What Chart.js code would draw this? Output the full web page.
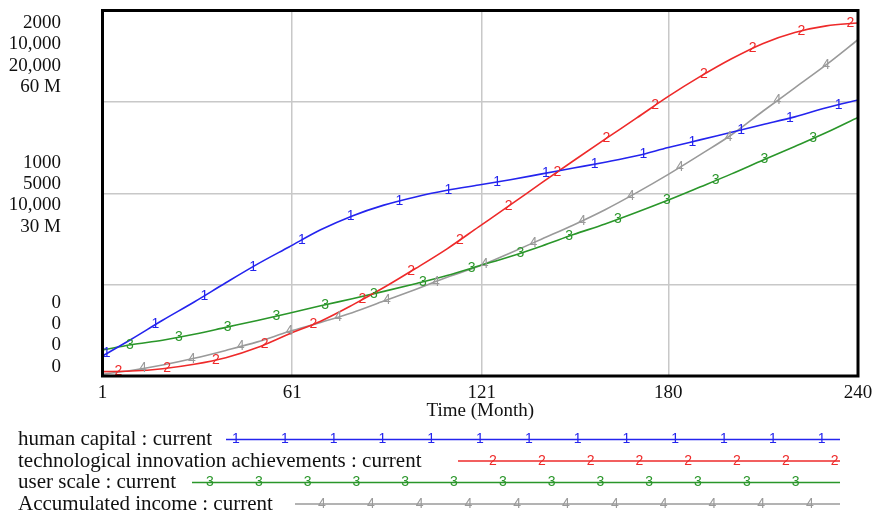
<!DOCTYPE html>
<html>
<head>
<meta charset="utf-8">
<title>Vensim style run chart</title>
<script src="https://cdn.jsdelivr.net/npm/chart.js@4.4.1/dist/chart.umd.min.js"></script>
<style>
  html, body { margin: 0; padding: 0; background: #fff; }
  canvas { display: block; }
</style>
</head>
<body>
<canvas id="runChart" width="872" height="516"></canvas>
<script>
// values, one point every ~10 months
const months = [1, 10, 20, 30, 40, 50, 60, 70, 80, 90, 100, 110, 120, 130, 140, 150, 160, 170, 180, 190, 200, 210, 220, 230, 240];
const humanCapital = [110, 200, 305, 405, 510, 612, 706, 800, 876, 935, 980, 1016, 1045, 1074, 1106, 1138, 1170, 1205, 1250, 1292, 1334, 1376, 1418, 1468, 1510];
const techInnovation = [120, 135, 200, 320, 500, 780, 1150, 1500, 1940, 2420, 2940, 3480, 4080, 4680, 5290, 5890, 6480, 7060, 7650, 8190, 8680, 9100, 9400, 9580, 9660];
const userScale = [1420, 1710, 1960, 2280, 2660, 3040, 3430, 3840, 4230, 4630, 5050, 5500, 6020, 6540, 7120, 7740, 8320, 8960, 9630, 10340, 11060, 11820, 12560, 13320, 14150];
const accumulatedIncome = [300000, 900000, 1800000, 2900000, 4200000, 5600000, 7300000, 8800000, 10400000, 12300000, 14200000, 16200000, 18000000, 20200000, 22500000, 24800000, 27300000, 30100000, 33100000, 36300000, 39600000, 43500000, 47300000, 51100000, 55200000];

const seriesNames = ['human capital : current', 'technological innovation achievements : current', 'user scale : current', 'Accumulated income : current'];
const seriesMarks = ['1', '2', '3', '4'];
const seriesMax = [2000, 10000, 20000, 60000000];
const xTicks = [1, 61, 121, 180, 240];
const yTopLabels = ['2000', '10,000', '20,000', '60 M'];
const yMidLabels = ['1000', '5000', '10,000', '30 M'];
const yBotLabels = ['0', '0', '0', '0'];

const colors = ['#2424ee', '#ee2a2a', '#2a962a', '#9a9a9a'];
const serif = '"Liberation Serif", "Times New Roman", serif';

// where the little number marks start (px) on the plot and in the legend
const markStart = [106.7, 118.3, 130, 143];
const markStep = 48.8;
const legendRows = [
  { y: 439.5, base: 445, from: 226, to: 840, first: 236 },
  { y: 461, base: 466.5, from: 458, to: 840, first: 493 },
  { y: 482.5, base: 488, from: 192, to: 840, first: 210 },
  { y: 504, base: 509.5, from: 295, to: 840, first: 322 }
];

function toPoints(vals) {
  return months.map((m, i) => ({ x: m, y: vals[i] }));
}

function lineYAt(pts, x) {
  for (let k = 1; k < pts.length; k++) {
    if (pts[k].x >= x) {
      const p0 = pts[k - 1], p1 = pts[k];
      return p0.y + (p1.y - p0.y) * (x - p0.x) / (p1.x - p0.x);
    }
  }
  return pts[pts.length - 1].y;
}

const vensimDecor = {
  id: 'vensimDecor',
  afterDatasetsDraw(chart) {
    const { ctx, chartArea: a } = chart;
    ctx.save();
    ctx.font = '14px "Liberation Sans", Arial, sans-serif';
    ctx.textAlign = 'center';
    ctx.textBaseline = 'middle';
    chart.data.datasets.forEach((ds, i) => {
      const pts = chart.getDatasetMeta(i).data;
      ctx.fillStyle = ds.borderColor;
      for (let x = markStart[i]; x <= a.right; x += markStep) {
        ctx.fillText(seriesMarks[i], x, lineYAt(pts, x));
      }
    });
    ctx.strokeStyle = '#000';
    ctx.lineWidth = 3;
    ctx.strokeRect(a.left, a.top, a.right - a.left, a.bottom - a.top);
    ctx.restore();
  },
  afterDraw(chart) {
    const { ctx } = chart;
    const y = chart.scales.y;
    const step = 21.3;
    ctx.save();
    ctx.fillStyle = '#111';
    ctx.font = '19px ' + serif;
    ctx.textAlign = 'right';
    ctx.textBaseline = 'alphabetic';
    const top = y.getPixelForValue(2000), mid = y.getPixelForValue(1000), bot = y.getPixelForValue(0);
    yTopLabels.forEach((t, i) => ctx.fillText(t, 61, top + 17.5 + i * step));
    yMidLabels.forEach((t, i) => ctx.fillText(t, 61, mid + 6.5 + (i - 1.5) * step));
    yBotLabels.forEach((t, i) => ctx.fillText(t, 61, bot - 4.5 - (3 - i) * step));

    // legend underneath
    ctx.textAlign = 'left';
    ctx.font = '21px ' + serif;
    legendRows.forEach((r, i) => {
      ctx.fillStyle = '#111';
      ctx.fillText(seriesNames[i], 18, r.base);
      ctx.strokeStyle = colors[i];
      ctx.lineWidth = 1.6;
      ctx.beginPath();
      ctx.moveTo(r.from, r.y);
      ctx.lineTo(r.to, r.y);
      ctx.stroke();
    });
    ctx.font = '14px "Liberation Sans", Arial, sans-serif';
    ctx.textAlign = 'center';
    ctx.textBaseline = 'middle';
    legendRows.forEach((r, i) => {
      ctx.fillStyle = colors[i];
      for (let x = r.first; x <= r.to; x += markStep) ctx.fillText(seriesMarks[i], x, r.y);
    });
    ctx.restore();
  }
};

const ctx = document.getElementById('runChart').getContext('2d');
const allData = [humanCapital, techInnovation, userScale, accumulatedIncome];

new Chart(ctx, {
  type: 'line',
  data: {
    datasets: allData.map((vals, i) => ({
      label: seriesNames[i],
      data: toPoints(vals),
      yAxisID: 'y' + (i === 0 ? '' : i + 1),
      borderColor: colors[i],
      borderWidth: 1.6,
      pointRadius: 0,
      cubicInterpolationMode: 'monotone',
      fill: false
    }))
  },
  options: {
    responsive: false,
    animation: false,
    layout: { padding: { left: 102.5, right: 14, top: 10.5, bottom: 94 } },
    plugins: { legend: { display: false }, tooltip: { enabled: false } },
    scales: {
      x: {
        type: 'linear',
        min: 1,
        max: 240,
        afterBuildTicks: (s) => { s.ticks = xTicks.map(v => ({ value: v })); },
        afterFit: (s) => { s.height = 46; s.paddingLeft = 0; s.paddingRight = 0; },
        grid: { color: '#c8c8c8', lineWidth: 1.5, drawTicks: false },
        border: { display: false },
        ticks: { color: '#111', padding: 6, maxRotation: 0, font: { family: serif, size: 19 } },
        title: { display: true, text: 'Time (Month)', color: '#111', padding: 0, font: { family: serif, size: 19 } }
      },
      y: {
        min: 0,
        max: seriesMax[0],
        ticks: { display: false, stepSize: 500 },
        grid: { color: '#c8c8c8', lineWidth: 1.5, drawTicks: false },
        border: { display: false }
      },
      y2: { display: false, min: 0, max: seriesMax[1] },
      y3: { display: false, min: 0, max: seriesMax[2] },
      y4: { display: false, min: 0, max: seriesMax[3] }
    }
  },
  plugins: [vensimDecor]
});
</script>
</body>
</html>
